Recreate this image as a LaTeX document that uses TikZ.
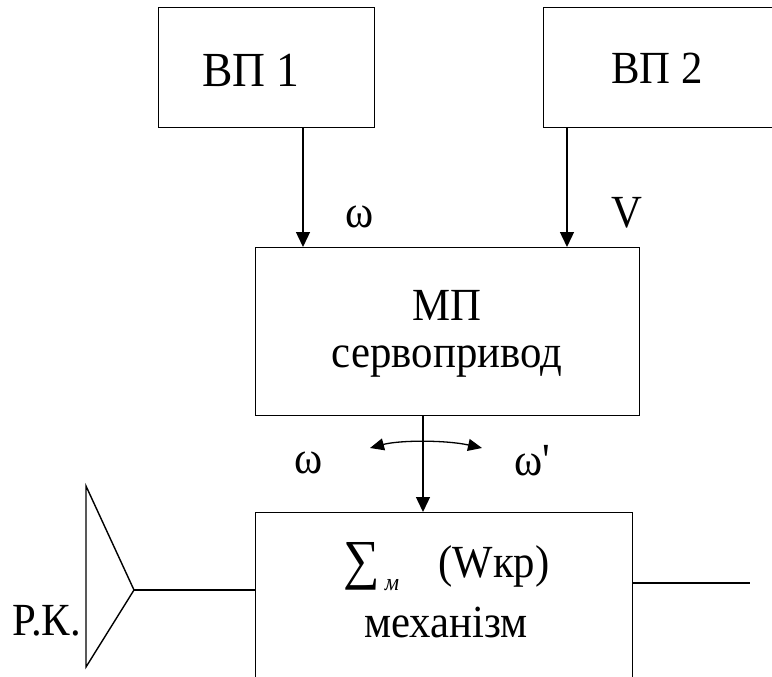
\documentclass[tikz,border=0pt]{standalone}
\usepackage{fontspec}
\newfontfamily\nf{Liberation Serif}[FakeStretch=0.93]
\usetikzlibrary{arrows.meta}
\begin{document}
\begin{tikzpicture}[x=1pt,y=-1pt,
  blk/.style={draw, line width=1.4pt, rectangle, inner sep=0pt, anchor=north west},
  lbl/.style={font=\nf\fontsize{46}{52}\selectfont, inner sep=0pt, anchor=base},
  arr/.style={line width=1.4pt, -{Triangle[length=15pt,width=14pt]}},
  ln/.style={line width=1.4pt}]
\useasboundingbox (0,0) rectangle (772,677);
% boxes
\node[blk, minimum width=216pt, minimum height=120pt] (vp1) at (158,7) {};
\node[blk, minimum width=260pt, minimum height=120pt] (vp2) at (543,7) {};
\node[blk, minimum width=384pt, minimum height=168pt] (mp) at (255,247) {};
\node[blk, minimum width=377pt, minimum height=200pt] (mech) at (255,512) {};
% box texts
\node[lbl, font=\nf\fontsize{49}{54}\selectfont] (t1) at (251,87) {ВП 1};
\node[lbl] (t2) at (657,84) {ВП 2};
\node[lbl] (t3) at (447,320) {МП};
\node[lbl] (t4) at (447,367) {сервопривод};
\node[lbl, font=\nf\fontsize{55}{60}\selectfont] (t5) at (362,578) {∑};
\node[font=\nf\fontsize{24}{26}\selectfont\itshape, inner sep=0pt, anchor=base] (t6) at (392,590) {м};
\node[lbl] (t7) at (494,577) {(Wкр)};
\node[lbl] (t8) at (446,637) {механізм};
% arrows into МП
\draw[arr] (303,0 |- vp1.south) -- (303,0 |- mp.north);
\draw[arr] (567,0 |- vp2.south) -- (567,0 |- mp.north);
\draw[arr] (423,0 |- mp.south) -- (423,0 |- mech.north);
% labels on arrows
\node[lbl] (w1) at (360,227) {ω};
\node[lbl] (v) at (627,227) {V};
\node[lbl] (w2) at (309,473) {ω};
\node[lbl] (w3) at (532,475) {ω'};
% curved double arrow
\coordinate (ca) at (370,448);
\coordinate (cb) at (482,448);
\draw[line width=1.3pt, {Triangle[length=14pt,width=12pt]}-{Triangle[length=14pt,width=12pt]}]
  (ca) .. controls (400,440) and (446,440) .. (cb);
% antenna triangle
\coordinate (apex) at (134,590);
\coordinate (ttop) at (86,486);
\coordinate (tbot) at (86,667);
\draw[ln, line join=miter] (ttop) -- (apex) -- (tbot) -- cycle;
\draw[ln] (apex) -- (apex -| mech.west);
\node[lbl] (rk) at (47,635) {Р.К.};
% output line
\coordinate (out) at (750,583);
\draw[ln] (out -| mech.east) -- (out);
\end{tikzpicture}
\end{document}
